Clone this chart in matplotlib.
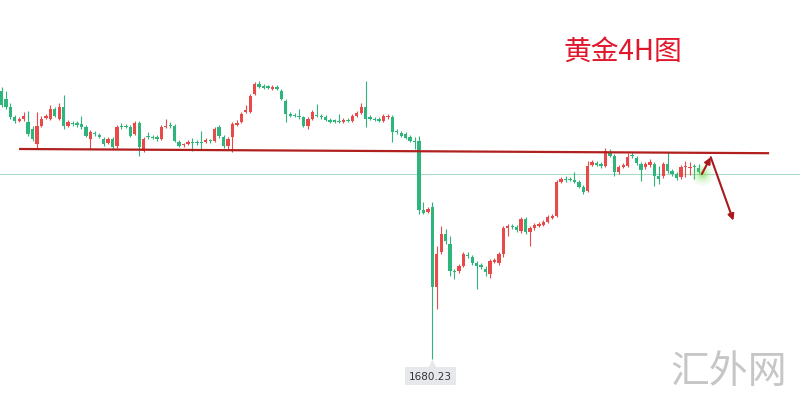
import numpy as np
import matplotlib
matplotlib.use('Agg')
import matplotlib.pyplot as plt

plt.rcParams['font.family'] = ['Noto Sans CJK SC', 'DejaVu Sans']

# gold, 4H candles (oldest first)
opens = [1814, 1810, 1806, 1801, 1799, 1800, 1798.5, 1795, 1787.5, 1796.5,
         1800.5, 1800, 1805, 1800, 1806, 1796.5, 1798, 1798, 1797.5, 1796,
         1790, 1793, 1792, 1790, 1788, 1790, 1786.5, 1796.5, 1796.5, 1796,
         1792.5, 1798, 1784, 1791.5, 1791, 1791, 1790, 1796, 1797, 1796.5,
         1788.5, 1787, 1787.5, 1788.5, 1788.5, 1788.5, 1788.5, 1789.5, 1789, 1796,
         1791, 1786.5, 1791, 1797, 1798.5, 1803.5, 1803.5, 1812.5, 1817.5, 1816.5,
         1816.5, 1815, 1816, 1814, 1809, 1802.5, 1802, 1801.5, 1801, 1796.5,
         1800, 1802, 1801.5, 1801, 1799.5, 1799.5, 1799, 1798.5, 1799.5, 1799,
         1801.5, 1803, 1806, 1801, 1800, 1800, 1799, 1801, 1801, 1794,
         1793, 1792.5, 1791, 1789, 1789,
         1754.5, 1753.5, 1756, 1716, 1733.5, 1742.5, 1737.5, 1724, 1724, 1726.5,
         1732, 1731, 1728, 1727, 1725, 1722.5, 1728.5, 1728, 1732.5, 1745.5,
         1746.5, 1746, 1744, 1750, 1743.5, 1745.5, 1746.5, 1747, 1748.5, 1750.5,
         1751.5, 1768.5, 1770, 1770, 1769.5, 1768.5, 1766, 1764, 1777, 1778,
         1777.5, 1776.5, 1783.5, 1781.5, 1773.5, 1776, 1776.5, 1782, 1780.5, 1777.5,
         1776, 1777, 1777.5, 1771.5, 1771.5, 1777.5, 1774, 1772.5, 1771, 1776,
         1775.5, 1776.5, 1775.5]
closes = [1807, 1806, 1801, 1799, 1800, 1801.5, 1792.5, 1790, 1796.5, 1800,
          1801.5, 1805, 1801.5, 1806, 1796.5, 1798.5, 1797.5, 1797, 1796, 1791.5,
          1793.5, 1792.5, 1791, 1787.5, 1790, 1786, 1796, 1796, 1796, 1791.5,
          1798, 1786, 1790, 1791, 1790.5, 1790, 1796, 1796.5, 1796.5, 1789,
          1786.5, 1787.5, 1788.5, 1788, 1788, 1788, 1789.5, 1789, 1795, 1791.5,
          1786.5, 1790, 1797.5, 1798, 1802.5, 1804.5, 1811.5, 1817.5, 1816, 1815.5,
          1815.5, 1816, 1815, 1810, 1802.5, 1801.5, 1801.5, 1801, 1796.5, 1800,
          1803.5, 1801.5, 1801, 1799.5, 1798.5, 1798.5, 1798.5, 1799.5, 1799, 1801.5,
          1803, 1806, 1800, 1800, 1799.5, 1799, 1801.5, 1801.5, 1793.5, 1793.5,
          1791.5, 1790.5, 1789, 1788.5, 1754.5,
          1753, 1755, 1716, 1732.5, 1742.5, 1739, 1724, 1723.5, 1726.5, 1732.5,
          1731.5, 1728, 1726.5, 1726, 1723.5, 1729, 1729.5, 1732.5, 1745.5, 1746.5,
          1746, 1744.5, 1750, 1743.5, 1745.5, 1747, 1747.5, 1748.5, 1751, 1751.5,
          1768.5, 1770, 1769.5, 1769.5, 1768.5, 1766, 1763.5, 1776.5, 1778.5, 1777,
          1776.5, 1784, 1781.5, 1773.5, 1776, 1777, 1781, 1781.5, 1778, 1774.5,
          1777.5, 1778.5, 1771.5, 1770, 1777.5, 1774, 1772.5, 1770.5, 1776, 1776.5,
          1776, 1776, 1773.5]
highs = [1816, 1814, 1808, 1802, 1801, 1803.5, 1804, 1796.5, 1803.5, 1801.5,
         1802.5, 1807, 1806, 1808, 1812, 1799.5, 1799, 1799, 1801.5, 1797,
         1794.5, 1794, 1793, 1791, 1791, 1791, 1797, 1798, 1797.5, 1797,
         1799, 1799, 1791, 1793.5, 1792, 1792, 1797, 1800, 1798.5, 1797.5,
         1789.5, 1788, 1789.5, 1790.5, 1789.5, 1794, 1790.5, 1790, 1796, 1797,
         1792, 1791, 1798.5, 1799.5, 1803.5, 1807, 1812.5, 1818.5, 1819, 1817.5,
         1817, 1817, 1817, 1815, 1810, 1803.5, 1803, 1805, 1801.5, 1801,
         1804.5, 1807.5, 1802.5, 1802, 1800.5, 1800, 1802.5, 1800.5, 1800.5, 1802.5,
         1804, 1808, 1819, 1802, 1801, 1801, 1802.5, 1802.5, 1802, 1795,
         1794, 1793.5, 1792, 1791, 1791.5,
         1758.5, 1756, 1758.5, 1736.5, 1746.5, 1745, 1741.5, 1725, 1727.5, 1733.5,
         1733.5, 1732, 1729, 1728, 1726.5, 1730, 1730.5, 1733.5, 1746.5, 1747.5,
         1747.5, 1747, 1751, 1751, 1746.5, 1748, 1748.5, 1749.5, 1752, 1752.5,
         1769.5, 1771, 1771.5, 1771, 1773.5, 1769.5, 1767, 1779, 1779.5, 1779,
         1778.5, 1785.5, 1785, 1782.5, 1777, 1778, 1783, 1783.5, 1781.5, 1778.5,
         1778.5, 1780, 1778.5, 1776.5, 1778.5, 1783.5, 1775, 1773.5, 1777, 1779,
         1778.5, 1777.5, 1777.5]
lows = [1806, 1805, 1800, 1798, 1798.5, 1799, 1791.5, 1789, 1785, 1796,
        1800, 1799.5, 1801, 1799.5, 1795, 1796, 1796.5, 1796, 1795, 1791,
        1785, 1791.5, 1790.5, 1786.5, 1787.5, 1785, 1785.5, 1795, 1795.5, 1791,
        1792, 1781.5, 1783.5, 1790, 1790, 1789, 1789.5, 1795.5, 1795.5, 1788.5,
        1786, 1786, 1787, 1784, 1787, 1785, 1788, 1788, 1788.5, 1790.5,
        1785.5, 1785, 1783.5, 1796.5, 1798, 1803, 1803, 1812, 1815.5, 1815,
        1815, 1814.5, 1814.5, 1809.5, 1798.5, 1801, 1801, 1800, 1796, 1795,
        1799.5, 1801, 1800, 1799, 1798, 1798, 1798, 1798, 1798.5, 1798.5,
        1801, 1802.5, 1796, 1799.5, 1799, 1798.5, 1798.5, 1800, 1788.5, 1792.5,
        1791, 1790, 1788.5, 1785, 1752.5,
        1752.5, 1753, 1680.23, 1705, 1732.5, 1737.5, 1721.5, 1720, 1723, 1726,
        1730.5, 1727, 1715, 1725, 1721.5, 1720.5, 1728, 1727, 1731, 1741.5,
        1745, 1743.5, 1743, 1742.5, 1736.5, 1744.5, 1746, 1746.5, 1748, 1750,
        1751, 1768, 1768.5, 1769, 1768, 1765.5, 1762.5, 1763.5, 1776.5, 1776.5,
        1775.5, 1776, 1781, 1771.5, 1772.5, 1775.5, 1776, 1780.5, 1777, 1769,
        1775, 1776, 1766.5, 1767.5, 1770.5, 1773, 1771.5, 1769.5, 1770, 1771,
        1772, 1770, 1772.5]

low_label = '1680.23'
last_price = 1772.3

# hand drawn resistance line and projected path
resist_x = [4.2, 172.6]
resist_y = [1785.0, 1782.9]
path_x = [157.7, 159.7, 164.8]
path_y = [1772.5, 1780.9, 1749.2]

UP = '#e84a4a'
DOWN = '#2fb57b'


def plot_candles(ax, o, h, l, c):
    o, h, l, c = map(np.asarray, (o, h, l, c))
    idx = np.arange(len(o))
    colors = np.where(c >= o, UP, DOWN)
    ax.vlines(idx, l, h, colors=colors, linewidth=0.8, zorder=2)
    bottom = np.minimum(o, c)
    height = np.maximum(np.abs(c - o), 0.6)
    ax.bar(idx, height, bottom=bottom, width=0.75, color=colors, linewidth=0, zorder=3)


fig = plt.figure(figsize=(8, 4.02), dpi=100)
ax = fig.add_axes([0, 0, 1, 1])
ax.set_xlim(-0.34, 179.8)
ax.set_ylim(1659, 1860)
ax.axis('off')

ax.axhline(last_price, color='#a8dcc4', linewidth=0.8, zorder=1)
plot_candles(ax, opens, highs, lows, closes)
ax.plot(resist_x, resist_y, color='#b0201e', linewidth=1.6, zorder=4)

# glow at the last candle
for s, a in [(260, 0.08), (150, 0.12), (70, 0.2), (25, 0.35)]:
    ax.scatter(path_x[0], path_y[0], s=s, color='#7be05a', alpha=a, linewidths=0, zorder=5)

arrow = dict(arrowstyle='-|>', color='#a8191c', lw=1.5, mutation_scale=9, shrinkA=0, shrinkB=0)
ax.annotate('', xy=(path_x[1], path_y[1]), xytext=(path_x[0], path_y[0]), arrowprops=arrow, zorder=6)
ax.annotate('', xy=(path_x[2], path_y[2]), xytext=(path_x[1], path_y[1]), arrowprops=arrow, zorder=6)

# low price label
low_i = int(np.argmin(lows))
ax.scatter(low_i, 1678.2, marker='^', s=30, color='#e6e8eb', linewidths=0, zorder=5)
ax.text(low_i - 0.4, 1671.5, low_label, ha='center', va='center', fontsize=7.5, color='#333333',
        family=['DejaVu Sans'],
        bbox=dict(boxstyle='square,pad=0.35', facecolor='#e6e8eb', edgecolor='none'), zorder=6)

ax.text(0.778, 0.871, '黄金4H图', transform=ax.transAxes, ha='center', va='center',
        fontsize=20, color='#e0162b', style='italic')
ax.text(0.911, 0.075, '汇外网', transform=ax.transAxes, ha='center', va='center',
        fontsize=28, color='#c6c6c6')

plt.savefig('out.png', dpi=100)
plt.close('all')
